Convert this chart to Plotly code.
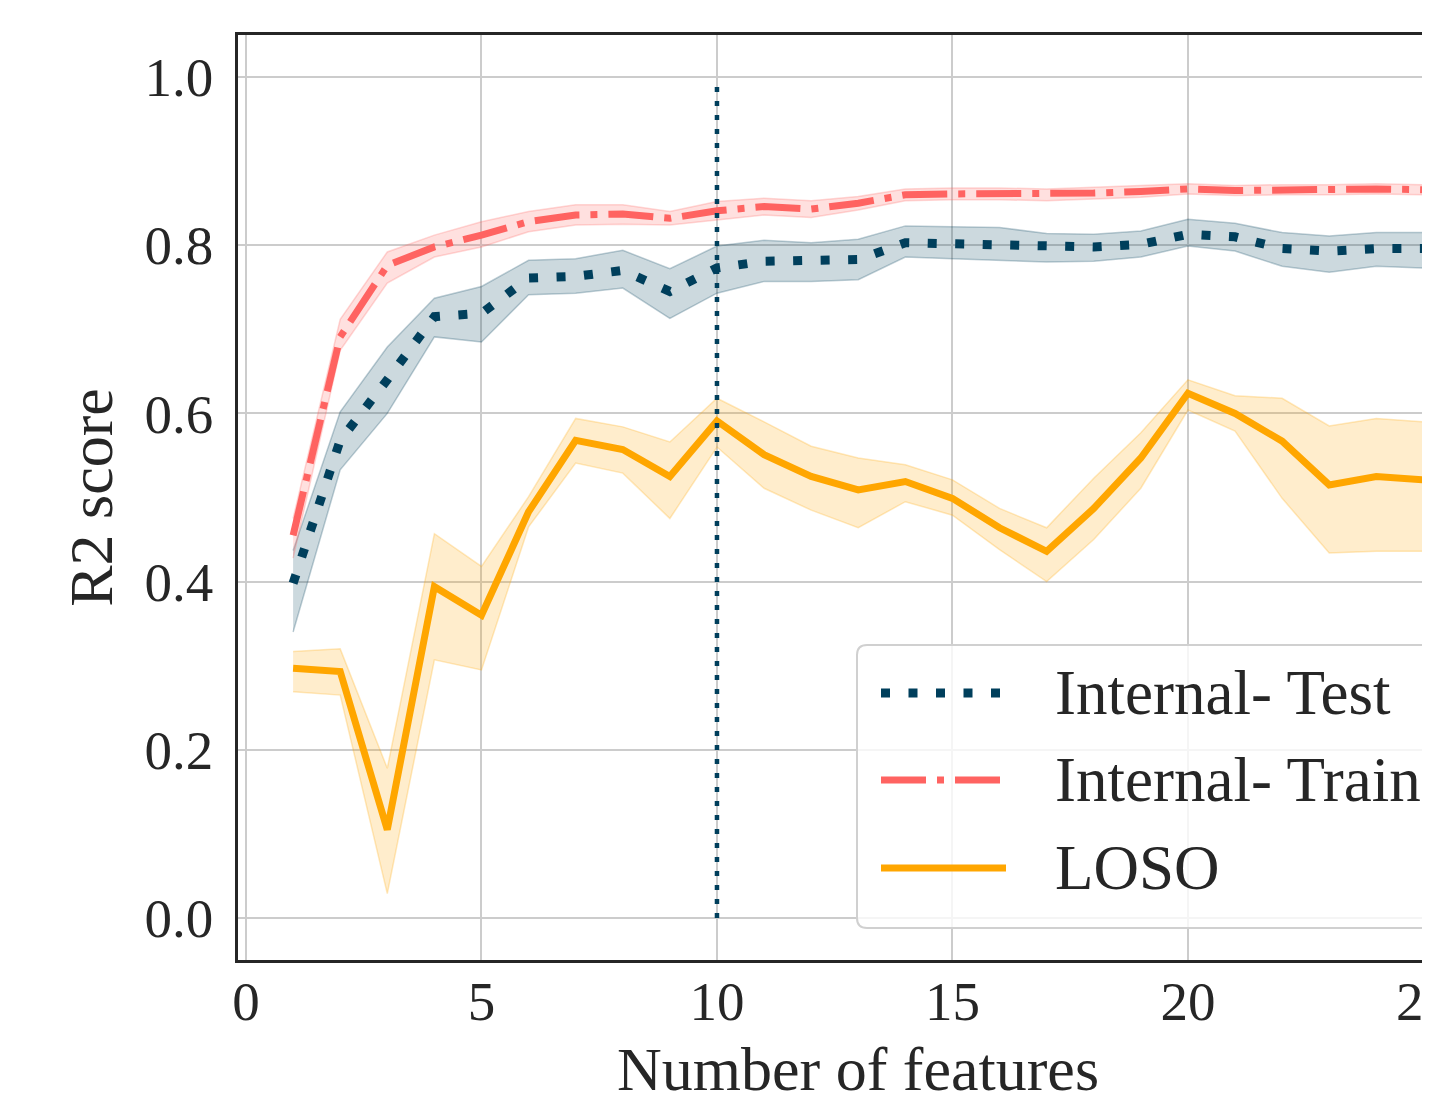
import plotly.graph_objects as go

# ---------------- data ----------------
features = list(range(1, 26))

test_mean = [0.398, 0.568, 0.640, 0.715, 0.719, 0.761, 0.763, 0.770, 0.745, 0.773,
             0.781, 0.781, 0.783, 0.803, 0.802, 0.801, 0.798, 0.798, 0.801, 0.813,
             0.810, 0.796, 0.793, 0.796, 0.796]
test_lo = [0.340, 0.533, 0.600, 0.691, 0.685, 0.741, 0.743, 0.749, 0.713, 0.743,
           0.757, 0.757, 0.759, 0.786, 0.784, 0.782, 0.780, 0.781, 0.786, 0.799,
           0.793, 0.775, 0.768, 0.775, 0.773]
test_hi = [0.437, 0.602, 0.679, 0.737, 0.751, 0.782, 0.784, 0.794, 0.772, 0.799,
           0.806, 0.803, 0.807, 0.823, 0.822, 0.821, 0.814, 0.813, 0.817, 0.831,
           0.826, 0.815, 0.811, 0.815, 0.815]

train_mean = [0.455, 0.691, 0.776, 0.798, 0.812, 0.828, 0.836, 0.837, 0.832, 0.841,
              0.846, 0.843, 0.850, 0.860, 0.861, 0.861, 0.860, 0.862, 0.864, 0.867,
              0.865, 0.866, 0.866, 0.867, 0.866]
train_lo = [0.428, 0.675, 0.755, 0.786, 0.798, 0.816, 0.824, 0.825, 0.824, 0.830,
            0.836, 0.833, 0.842, 0.853, 0.854, 0.854, 0.853, 0.855, 0.857, 0.861,
            0.859, 0.860, 0.860, 0.861, 0.860]
train_hi = [0.475, 0.712, 0.792, 0.812, 0.828, 0.840, 0.848, 0.848, 0.840, 0.852,
            0.856, 0.853, 0.858, 0.867, 0.868, 0.868, 0.867, 0.869, 0.871, 0.873,
            0.871, 0.872, 0.872, 0.873, 0.872]

loso_mean = [0.297, 0.293, 0.105, 0.394, 0.360, 0.483, 0.568, 0.557, 0.525, 0.591,
             0.551, 0.525, 0.509, 0.519, 0.499, 0.464, 0.436, 0.487, 0.547, 0.624,
             0.600, 0.567, 0.515, 0.525, 0.521]
loso_lo = [0.269, 0.265, 0.029, 0.307, 0.295, 0.465, 0.541, 0.529, 0.475, 0.560,
           0.511, 0.485, 0.464, 0.495, 0.479, 0.438, 0.400, 0.450, 0.511, 0.604,
           0.579, 0.499, 0.434, 0.436, 0.436]
loso_hi = [0.317, 0.320, 0.178, 0.457, 0.418, 0.501, 0.594, 0.584, 0.566, 0.618,
           0.590, 0.561, 0.547, 0.539, 0.521, 0.487, 0.464, 0.523, 0.577, 0.640,
           0.621, 0.618, 0.585, 0.594, 0.590]

selected_k = 10
vline_y = [0.0, 0.99]

x_ticks = [0, 5, 10, 15, 20, 25]
y_ticks = [0.0, 0.2, 0.4, 0.6, 0.8, 1.0]

series_names = ["Internal- Test", "Internal- Train", "LOSO"]
x_title = "Number of features"
y_title = "R2 score"

# ---------------- styling ----------------
FONT = "Liberation Serif"
TXT = "#262626"
C_TEST = "#003f5c"
C_TRAIN = "#ff6361"
C_LOSO = "#ffa600"

TEST_DASH = "9px,18.5px"
TRAIN_DASH = "45px,11px,7px,11px"


def rgba(hexc, a):
    h = hexc.lstrip("#")
    r, g, b = int(h[0:2], 16), int(h[2:4], 16), int(h[4:6], 16)
    return f"rgba({r},{g},{b},{a})"


fig = go.Figure()


def add_band(lo, hi, color):
    fig.add_trace(go.Scatter(x=features, y=lo, mode="lines",
                             line=dict(color=rgba(color, 0.25), width=1.5),
                             showlegend=False, hoverinfo="skip"))
    fig.add_trace(go.Scatter(x=features, y=hi, mode="lines", fill="tonexty",
                             fillcolor=rgba(color, 0.2),
                             line=dict(color=rgba(color, 0.25), width=1.5),
                             showlegend=False, hoverinfo="skip"))


add_band(test_lo, test_hi, C_TEST)
fig.add_trace(go.Scatter(x=features, y=test_mean, mode="lines", name=series_names[0],
                         line=dict(color=C_TEST, width=9, dash=TEST_DASH),
                         showlegend=False))
add_band(train_lo, train_hi, C_TRAIN)
fig.add_trace(go.Scatter(x=features, y=train_mean, mode="lines", name=series_names[1],
                         line=dict(color=C_TRAIN, width=7, dash=TRAIN_DASH),
                         showlegend=False))
add_band(loso_lo, loso_hi, C_LOSO)
fig.add_trace(go.Scatter(x=features, y=loso_mean, mode="lines", name=series_names[2],
                         line=dict(color=C_LOSO, width=7),
                         showlegend=False))

fig.add_trace(go.Scatter(x=[selected_k, selected_k], y=vline_y, mode="lines",
                         line=dict(color=C_TEST, width=4.5, dash="5px,9px"),
                         showlegend=False, hoverinfo="skip"))

# page body has an 8px margin -> compensate so the page picture lines up,
# and keep the figure small enough that no scrollbars appear
OFF = 8
W, H = 1430 - OFF, 1100 - 2 * OFF
ML, MR, MT, MB = 238 - OFF, 0, 35 - OFF, H - (960 - OFF)
PW, PH = W - ML - MR, H - MT - MB


def px2paper(px, py):
    """page pixel -> paper coordinates"""
    fx, fy = px - OFF, py - OFF
    return (fx - ML) / PW, (H - MB - fy) / PH


# ---------------- manual legend (long line samples like matplotlib) ----------------
shapes = []
bx0, by0 = px2paper(857, 928)
bx1, by1 = px2paper(1460, 645)
rx, ry = 10 / PW, 10 / PH
path = (f"M {bx0+rx},{by1} L {bx1},{by1} L {bx1},{by0} L {bx0+rx},{by0} "
        f"Q {bx0},{by0} {bx0},{by0+ry} L {bx0},{by1-ry} Q {bx0},{by1} {bx0+rx},{by1} Z")
shapes.append(dict(type="path", path=path, xref="paper", yref="paper",
                   fillcolor="rgba(255,255,255,0.8)",
                   line=dict(color="#d0d0d0", width=2), layer="above"))

rows_py = [693, 780, 868]
styles = [dict(color=C_TEST, width=9, dash=TEST_DASH),
          dict(color=C_TRAIN, width=7, dash=TRAIN_DASH),
          dict(color=C_LOSO, width=7)]
annotations = []
for name, py, st in zip(series_names, rows_py, styles):
    x0, y0 = px2paper(881, py)
    x1, _ = px2paper(1006, py)
    shapes.append(dict(type="line", xref="paper", yref="paper", x0=x0, x1=x1,
                       y0=y0, y1=y0, line=st, layer="above"))
    tx, _ = px2paper(1053, py)
    annotations.append(dict(x=tx, y=y0, xref="paper", yref="paper", text=name,
                            showarrow=False, xanchor="left", yanchor="middle",
                            font=dict(family=FONT, size=63, color=TXT)))

# x-axis title: the original axes extend past the right edge, so its centre is
# to the right of the visible plot centre
tx, ty = px2paper(858, 1033)
annotations.append(dict(x=tx, y=ty, xref="paper", yref="paper", text=x_title,
                        showarrow=False, xanchor="center", yanchor="top",
                        font=dict(family=FONT, size=62, color=TXT)))

fig.update_layout(
    width=W, height=H, autosize=False,
    margin=dict(l=ML, r=MR, t=MT, b=MB, pad=0),
    paper_bgcolor="white", plot_bgcolor="white",
    template="none",
    showlegend=False,
    shapes=shapes,
    annotations=annotations,
    font=dict(family=FONT, color=TXT),
)

fig.update_xaxes(
    range=[-0.17, 25.14], tickvals=x_ticks, ticktext=[str(v) for v in x_ticks],
    showgrid=True, gridcolor="#cccccc", gridwidth=2,
    showline=True, linecolor=TXT, linewidth=2.5, mirror=True,
    zeroline=False, ticks="", ticklabelstandoff=-9, automargin=False,
    ticklabeloverflow="allow",
    tickfont=dict(family=FONT, size=55, color=TXT),
)
fig.update_yaxes(
    range=[-0.05, 1.05], tickvals=y_ticks, ticktext=[f"{v:.1f}" for v in y_ticks],
    showgrid=True, gridcolor="#cccccc", gridwidth=2,
    showline=True, linecolor=TXT, linewidth=2.5, mirror=False,
    zeroline=False, ticks="", ticklabelstandoff=11, automargin=False,
    tickfont=dict(family=FONT, size=55, color=TXT),
    title=dict(text=y_title, standoff=12,
               font=dict(family=FONT, size=62, color=TXT)),
)

fig.write_html("out.html", config={"responsive": False})
